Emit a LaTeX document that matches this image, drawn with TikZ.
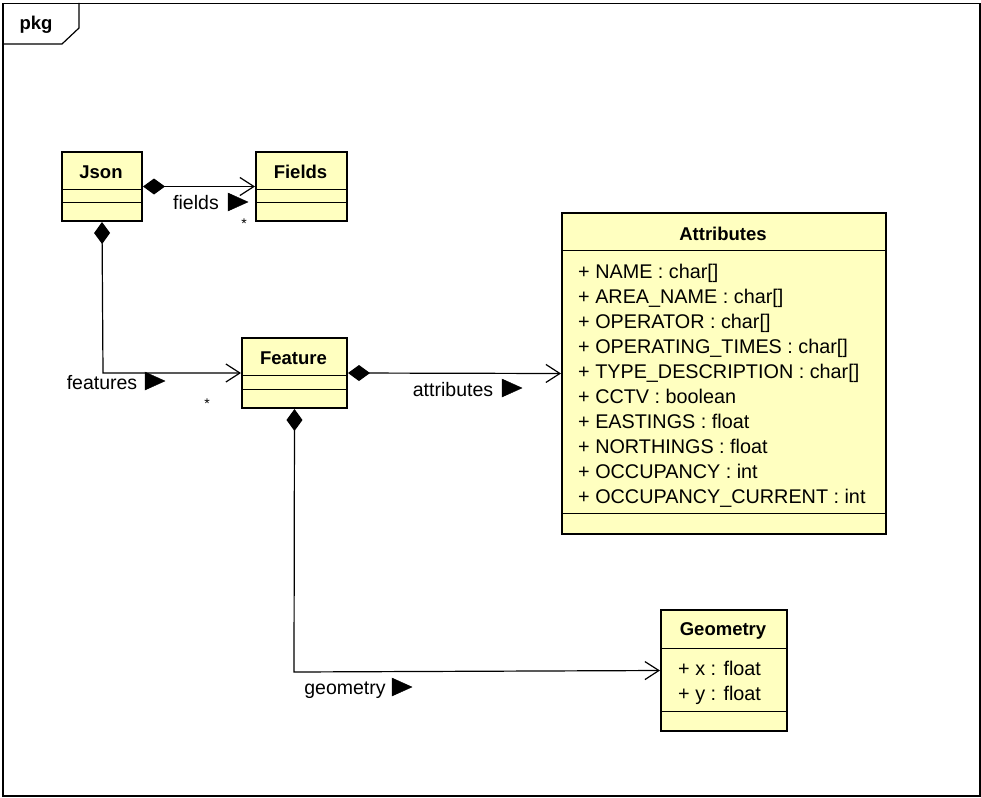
\documentclass[tikz,border=0pt]{standalone}
\usepackage{fontspec}
\setmainfont{Liberation Sans}
\usetikzlibrary{arrows.meta,calc}
\definecolor{umlfill}{RGB}{255,255,192}
\tikzset{
  x=1pt,y=-1pt,
  classbox/.style={draw,line width=2pt,fill=umlfill,anchor=north west,inner sep=0pt,minimum width=#1},
  sepline/.style={line width=1pt},
  ctitle/.style={font=\fontsize{18.5}{22}\selectfont\bfseries,inner sep=0pt},
  attrtxt/.style={font=\fontsize{19.8}{25}\selectfont,align=left,anchor=north west,inner sep=0pt},
  lbl/.style={font=\fontsize{19.5}{22}\selectfont,inner sep=0pt},
  mult/.style={font=\fontsize{14}{16}\selectfont,inner sep=0pt},
  comp/.style={line width=1.2pt,{Diamond[length=22pt,width=16pt]}-{Straight Barb[length=14pt,width=18pt,line width=1.2pt]}},
  dirtri/.style={fill=black},
}
\begin{document}
\begin{tikzpicture}
\useasboundingbox (0,0) rectangle (981,797);
% frame
\node[draw,line width=1.5pt,anchor=north west,minimum width=977pt,minimum height=792pt,inner sep=0pt] (frame) at (2,3) {};
\draw[line width=1.2pt] (79,3) -- (79,28) -- (62,44) -- (2,44);
\node[ctitle] (pkg) at (36,25) {pkg};

% Json
\node[classbox=80pt,minimum height=69pt] (json) at (61,151) {};
\node[ctitle] (jsonT) at (101,172) {Json};
\draw[sepline] (61,189) -- (141,189) (61,202) -- (141,202);

% Fields
\node[classbox=91pt,minimum height=69pt] (fields) at (255,151) {};
\node[ctitle] (fieldsT) at (300.5,172) {Fields};
\draw[sepline] (255,189) -- (346,189) (255,202) -- (346,202);

% Feature
\node[classbox=105pt,minimum height=70pt] (feature) at (241,337) {};
\node[ctitle] (featureT) at (293.5,358) {Feature};
\draw[sepline] (241,375) -- (346,375) (241,389) -- (346,389);

% Attributes
\node[classbox=324pt,minimum height=321pt] (attr) at (561,212) {};
\node[ctitle] (attrT) at (723,234) {Attributes};
\draw[sepline] (561,250) -- (885,250) (561,513) -- (885,513);
\node[attrtxt] (attrL) at (578,263.5) {+ NAME : char[]\\+ AREA\_NAME : char[]\\+ OPERATOR : char[]\\+ OPERATING\_TIMES : char[]\\+ TYPE\_DESCRIPTION : char[]\\+ CCTV : boolean\\+ EASTINGS : float\\+ NORTHINGS : float\\+ OCCUPANCY : int\\+ OCCUPANCY\_CURRENT : int};

% Geometry
\node[classbox=126pt,minimum height=121pt] (geom) at (660,609) {};
\node[ctitle] (geomT) at (723,631) {Geometry};
\draw[sepline] (660,648) -- (786,648) (660,711) -- (786,711);
\node[attrtxt] (geomL) at (678,660.5) {+ x : float\\+ y : float};

% connectors
\draw[comp] (json.east) -- (fields.west);
\node[lbl] (fieldsLbl) at (196,203) {fields};
\draw[dirtri] (228,193) -- (248,202) -- (228,211) -- cycle;
\node[mult] (m1) at (244,224) {*};

\coordinate (b1) at (103,373);
\draw[comp] (json.south) -- (b1) -- (feature.west |- b1);
\node[lbl] (featuresLbl) at (102,383) {features};
\draw[dirtri] (145,372) -- (165,381) -- (145,390) -- cycle;
\node[mult] (m2) at (207,404) {*};

\draw[comp] (feature.east) -- (attr.west);
\node[lbl] (attrLbl) at (453,390) {attributes};
\draw[dirtri] (502,379) -- (522,388) -- (502,397) -- cycle;

\coordinate (b2) at (294,672);
\draw[comp] (feature.south) -- (b2) -- (geom.west);
\node[lbl] (geomLbl) at (345,690) {geometry};
\draw[dirtri] (392,678) -- (412,687) -- (392,696) -- cycle;
\end{tikzpicture}
\end{document}
